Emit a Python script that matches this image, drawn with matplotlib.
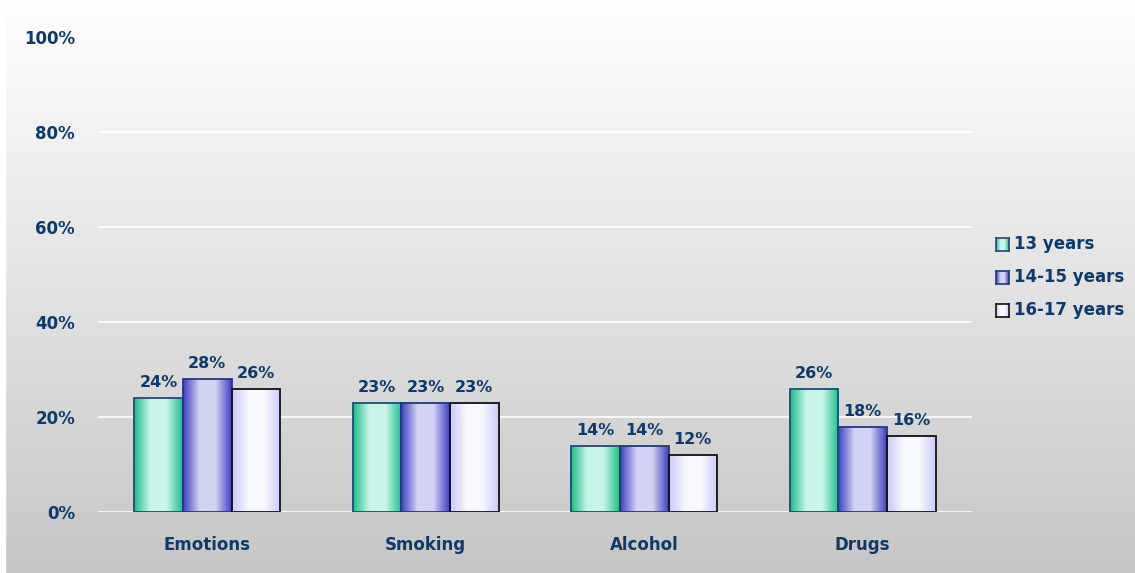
import numpy as np
import matplotlib
matplotlib.use("Agg")
import matplotlib.pyplot as plt
from matplotlib.colors import LinearSegmentedColormap, to_rgb
from matplotlib.patches import Rectangle

categories = ["Emotions", "Smoking", "Alcohol", "Drugs"]
series_names = ["13 years", "14-15 years", "16-17 years"]
values_13 = [24, 23, 14, 26]
values_14_15 = [28, 23, 14, 18]
values_16_17 = [26, 23, 12, 16]
y_ticks = [0, 20, 40, 60, 80, 100]
y_tick_labels = ["0%", "20%", "40%", "60%", "80%", "100%"]

series = [values_13, values_14_15, values_16_17]
# edge / centre colours of each bar's horizontal shading, plus outline colour
shades = [
    ("#1fc08a", "#c9f5e9", "#1e4a7a"),
    ("#4040c4", "#d2d2f2", "#1e3a7a"),
    ("#cacafe", "#f8f8ff", "#111111"),
]
text_color = "#0c3a6c"
font = "DejaVu Sans"

W, H = 1135, 573
fig = plt.figure(figsize=(W / 100, H / 100), dpi=100)

# background: vertical gradient white -> light grey
bg = fig.add_axes([0, 0, 1, 1], zorder=-10)
grad = np.linspace(1.0, 0.0, 256)[:, None]
top = np.array(to_rgb("#ffffff"))
bot = np.array(to_rgb("#c6c6c6"))
img = (bot[None, None, :] * (1 - grad[..., None]) + top[None, None, :] * grad[..., None])
img = np.repeat(img, 4, axis=1)
bg.imshow(img, aspect="auto", extent=[0, 1, 0, 1], origin="upper")
bg.add_patch(Rectangle((0, 0), 5 / W, 1, color="white", transform=bg.transAxes))
bg.set_xlim(0, 1)
bg.set_ylim(0, 1)
bg.axis("off")

x0, x1 = 98, 972
y0, y1 = 573 - 512, 573 - 37
ax = fig.add_axes([x0 / W, y0 / H, (x1 - x0) / W, (y1 - y0) / H])
ax.patch.set_alpha(0)
ax.set_xlim(-0.5, len(categories) - 0.5)
ax.set_ylim(0, 100)
for s in ax.spines.values():
    s.set_visible(False)
for t in y_ticks:
    ax.axhline(t, color="white", lw=1.2, zorder=1)

bar_w = 0.222
xs = np.arange(len(categories))
for i, (vals, (edge_c, mid_c, line_c)) in enumerate(zip(series, shades)):
    cmap = LinearSegmentedColormap.from_list(
        f"s{i}", [edge_c, mid_c, mid_c, edge_c], N=256)
    offs = (i - 1) * bar_w
    bars = ax.bar(xs + offs, vals, width=bar_w, facecolor="none",
                  edgecolor=line_c, linewidth=1.3, zorder=3,
                  label=series_names[i])
    for b, v in zip(bars, vals):
        xl = b.get_x()
        grad_h = np.linspace(0, 1, 64)[None, :]
        im = ax.imshow(grad_h, cmap=cmap, aspect="auto",
                       extent=[xl, xl + bar_w, 0, v], zorder=2,
                       interpolation="bilinear")
        im.set_clip_path(b)
        ax.text(b.get_x() + bar_w / 2, v + 1.6, f"{v}%", ha="center",
                va="bottom", fontsize=11.5, fontweight="bold",
                color=text_color, family=font)

ax.set_xlim(-0.5, len(categories) - 0.5)
ax.set_ylim(0, 100)
ax.set_yticks(y_ticks)
ax.set_yticklabels(y_tick_labels)
ax.set_xticks(xs)
ax.set_xticklabels(categories)
ax.tick_params(length=0)
ax.tick_params(axis="y", pad=16.5)
ax.tick_params(axis="x", pad=17)
for lab in ax.get_xticklabels() + ax.get_yticklabels():
    lab.set_fontsize(12)
    lab.set_fontweight("bold")
    lab.set_color(text_color)
    lab.set_family(font)

# legend with shaded swatches
leg_x, leg_y, step = 996, 244, 33
for i, (name, (edge_c, mid_c, line_c)) in enumerate(zip(series_names, shades)):
    cy = leg_y + i * step
    cmap = LinearSegmentedColormap.from_list(
        f"l{i}", [edge_c, mid_c, mid_c, edge_c], N=64)
    lax = fig.add_axes([leg_x / W, 1 - (cy + 7) / H, 13 / W, 13 / H])
    lax.imshow(np.linspace(0, 1, 32)[None, :], cmap=cmap, aspect="auto",
               extent=[0, 1, 0, 1])
    lax.set_xticks([])
    lax.set_yticks([])
    for s in lax.spines.values():
        s.set_color(line_c)
        s.set_linewidth(1.2)
    fig.text((leg_x + 18) / W, 1 - cy / H, name, ha="left", va="center",
             fontsize=12, fontweight="bold", color=text_color,
             family=font)

fig.savefig("out.png", dpi=100)
